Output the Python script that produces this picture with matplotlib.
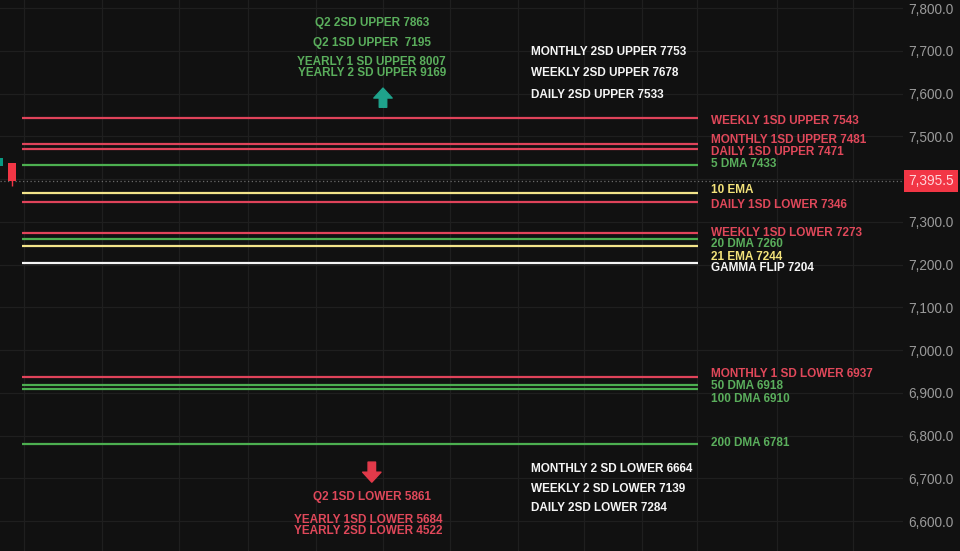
import matplotlib.pyplot as plt

plt.rcParams['font.family'] = 'Liberation Sans'

# price levels drawn as horizontal lines: (label, value, colour key, label y)
level_names = ['WEEKLY 1SD UPPER 7543', 'MONTHLY 1SD UPPER 7481', 'DAILY 1SD UPPER 7471',
               '5 DMA 7433', '10 EMA', 'DAILY 1SD LOWER 7346', 'WEEKLY 1SD LOWER 7273',
               '20 DMA 7260', '21 EMA 7244', 'GAMMA FLIP 7204', 'MONTHLY 1 SD LOWER 6937',
               '50 DMA 6918', '100 DMA 6910', '200 DMA 6781']
level_values = [7543, 7481, 7471, 7433, 7367, 7346, 7273, 7260, 7244, 7204, 6937, 6918, 6910, 6781]
level_kinds = ['red', 'red', 'red', 'green', 'yellow', 'red', 'red',
               'green', 'yellow', 'white', 'red', 'green', 'green', 'green']
label_y = [7536, 7491, 7463, 7435, 7374, 7339, 7273, 7248, 7218, 7192, 6944, 6916, 6885, 6782]

# last two candles (open, close, high, low)
candle_x = [0, 1]
candle_open = [7430, 7437]
candle_close = [7449, 7395.5]
candle_high = [7452, 7437]
candle_low = [7428, 7383]
last_price = 7395.5

upper_green = ['Q2 2SD UPPER 7863', 'Q2 1SD UPPER  7195',
               'YEARLY 1 SD UPPER 8007', 'YEARLY 2 SD UPPER 9169']
upper_white = ['MONTHLY 2SD UPPER 7753', 'WEEKLY 2SD UPPER 7678', 'DAILY 2SD UPPER 7533']
lower_red = ['Q2 1SD LOWER 5861', 'YEARLY 1SD LOWER 5684', 'YEARLY 2SD LOWER 4522']
lower_white = ['MONTHLY 2 SD LOWER 6664', 'WEEKLY 2 SD LOWER 7139', 'DAILY 2SD LOWER 7284']

yticks = [6600, 6700, 6800, 6900, 7000, 7100, 7200, 7300, 7400, 7500, 7600, 7700, 7800]
xgrid = [1.95, 7.95, 13.87, 19.18, 24.4, 29.56, 34.7, 39.95, 45.0, 49.5, 53.7, 59.9, 65.7]

BG = '#111111'
line_colors = {'red': '#e0435a', 'green': '#4caf50', 'yellow': '#f3e48a', 'white': '#f5f5f5'}
text_colors = {'red': '#e0485a', 'green': '#5aae5c', 'yellow': '#f3e27a', 'white': '#f5f5f5'}
UP = '#089981'
DOWN = '#f23645'

fig = plt.figure(figsize=(9.6, 5.51), dpi=100, facecolor=BG)
ax = fig.add_axes([0, 0, 903 / 960, 1])
ax.set_facecolor(BG)
ax.set_xlim(0.1, 69.56)
ax.set_ylim(6530, 7819)

# grid
ax.set_xticks(xgrid)
ax.set_yticks(yticks)
ax.grid(True, color='#1f1f1f', lw=0.9)
ax.tick_params(axis='x', length=0, labelbottom=False)
ax.yaxis.tick_right()
ax.tick_params(axis='y', length=0, pad=4, labelsize=9.8, labelcolor='#9a9a9a')
ax.set_yticklabels([f'{v:,.1f}' for v in yticks])
for s in ax.spines.values():
    s.set_visible(False)

# levels
x0, x1 = 1.79, 53.8
for name, val, kind, ly in zip(level_names, level_values, level_kinds, label_y):
    ax.hlines(val, x0, x1, color=line_colors[kind], lw=1.6, zorder=3)
    ax.text(54.8, ly, name, color=text_colors[kind], fontsize=8.5,
            fontweight='bold', va='center', ha='left', zorder=4)

# candles
for x, o, c, h, l in zip(candle_x, candle_open, candle_close, candle_high, candle_low):
    col = UP if c >= o else DOWN
    ax.vlines(x, l, h, color=col, lw=1, zorder=4)
    ax.bar(x, abs(c - o), bottom=min(o, c), width=0.62, color=col, zorder=5)

# last price line + tag
ax.axhline(last_price, color='#6a6a6a', lw=0.9, ls=(0, (1, 2)), zorder=2)
ax.annotate(f'{last_price:,.1f}', xy=(1.0, last_price), xycoords=('axes fraction', 'data'),
            xytext=(3.5, 0), textcoords='offset points', va='center', ha='left',
            fontsize=9.8, color='#ffd6da',
            bbox=dict(boxstyle='square,pad=0.3', fc=DOWN, ec='none'), annotation_clip=False)

# upper annotations
for txt, y in zip(upper_green, [7765, 7718, 7674, 7648]):
    ax.text(28.7, y, txt, color=text_colors['green'], fontsize=8.5, fontweight='bold',
            ha='center', va='center')
for txt, y in zip(upper_white, [7697, 7648, 7596]):
    ax.text(40.95, y, txt, color=text_colors['white'], fontsize=8.5, fontweight='bold',
            ha='left', va='center')
ax.annotate('', xy=(29.56, 7613), xytext=(29.56, 7568),
            arrowprops=dict(arrowstyle='simple,head_length=0.6,head_width=1.1,tail_width=0.45',
                            color='#1fa38c', mutation_scale=12, shrinkA=0, shrinkB=0))

# lower annotations
ax.annotate('', xy=(28.7, 6691), xytext=(28.7, 6738),
            arrowprops=dict(arrowstyle='simple,head_length=0.6,head_width=1.1,tail_width=0.45',
                            color='#e23a4a', mutation_scale=12, shrinkA=0, shrinkB=0))
for txt, y, xc in zip(lower_red, [6656, 6602, 6577], [28.7, 28.4, 28.4]):
    ax.text(xc, y, txt, color=text_colors['red'], fontsize=8.5, fontweight='bold',
            ha='center', va='center')
for txt, y in zip(lower_white, [6722, 6675, 6630]):
    ax.text(40.95, y, txt, color=text_colors['white'], fontsize=8.5, fontweight='bold',
            ha='left', va='center')

plt.savefig('out.png', dpi=100, facecolor=BG)
